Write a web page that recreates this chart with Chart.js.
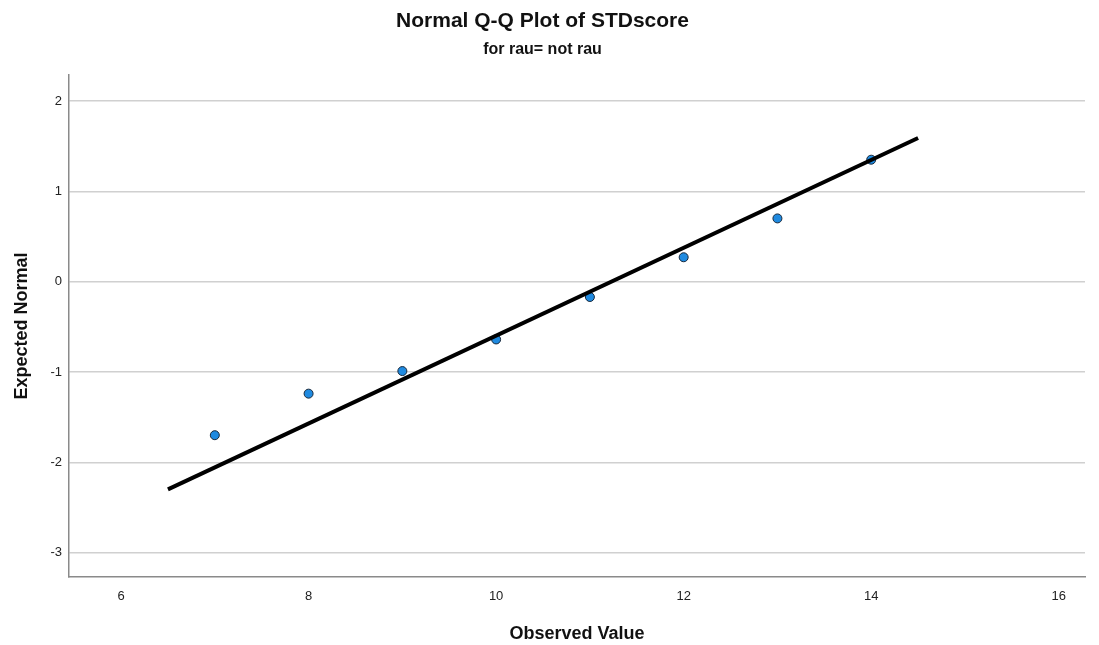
<!DOCTYPE html>
<html>
<head>
<meta charset="utf-8">
<script src="https://cdn.jsdelivr.net/npm/chart.js@4.4.1/dist/chart.umd.min.js"></script>
<style>
  html, body { margin: 0; padding: 0; background: #fff; }
  #wrap { width: 1099px; height: 645px; }
</style>
</head>
<body>
<div id="wrap"><canvas id="chart" width="1099" height="645"></canvas></div>
<script>
// observed values and their expected normal scores
const observed = [7, 8, 9, 10, 11, 12, 13, 14];
const expected = [-1.70, -1.24, -0.99, -0.64, -0.17, 0.27, 0.70, 1.35];

// reference line end points
const lineX = [6.5, 14.5];
const lineY = [-2.30, 1.59];

const xTicks = [6, 8, 10, 12, 14, 16];
const yTicks = [2, 1, 0, -1, -2, -3];

const font = "'Liberation Sans', Arial, sans-serif";

const points = observed.map((v, i) => ({ x: v, y: expected[i] }));
const line = lineX.map((v, i) => ({ x: v, y: lineY[i] }));

new Chart(document.getElementById('chart'), {
  type: 'scatter',
  data: {
    datasets: [
      {
        type: 'line',
        data: line,
        borderColor: '#000',
        borderWidth: 4,
        pointRadius: 0,
        fill: false,
        order: 0
      },
      {
        data: points,
        backgroundColor: '#1f8ae0',
        borderColor: '#18283a',
        borderWidth: 1,
        pointRadius: 4.5,
        order: 1
      }
    ]
  },
  options: {
    responsive: false,
    animation: false,
    layout: { padding: { left: 0, right: 14, top: 0, bottom: 0 } },
    plugins: {
      legend: { display: false },
      tooltip: { enabled: false },
      title: {
        display: true,
        text: 'Normal Q-Q Plot of STDscore',
        color: '#111',
        font: { family: font, size: 21, weight: 'bold' },
        padding: { top: 9, bottom: 3 }
      },
      subtitle: {
        display: true,
        text: 'for rau= not rau',
        color: '#111',
        font: { family: font, size: 16, weight: 'bold' },
        padding: { top: 3, bottom: 15.4 }
      }
    },
    scales: {
      x: {
        type: 'linear',
        min: 5.445,
        max: 16.28,
        afterBuildTicks: s => { s.ticks = xTicks.map(v => ({ value: v })); },
        afterFit: s => { s.height = 68; },
        ticks: { color: '#222', font: { family: font, size: 13 }, padding: 12 },
        grid: { display: false, drawTicks: false },
        border: { display: true, color: '#8a8a8a', width: 1.5 },
        title: {
          display: true,
          text: 'Observed Value',
          color: '#111',
          font: { family: font, size: 18, weight: 'bold' },
          padding: { top: 0, bottom: 0 }
        }
      },
      y: {
        type: 'linear',
        min: -3.27,
        max: 2.29,
        afterBuildTicks: s => { s.ticks = yTicks.map(v => ({ value: v })); },
        afterFit: s => { s.width = 69; },
        ticks: { color: '#222', font: { family: font, size: 13 }, padding: 7 },
        grid: { color: '#d0d0d0', lineWidth: 1.5, drawTicks: false },
        border: { display: true, color: '#8a8a8a', width: 1.5 },
        title: {
          display: true,
          text: 'Expected Normal',
          color: '#111',
          font: { family: font, size: 18, weight: 'bold' },
          padding: { top: 11, bottom: 0 }
        }
      }
    }
  }
});
</script>
</body>
</html>
